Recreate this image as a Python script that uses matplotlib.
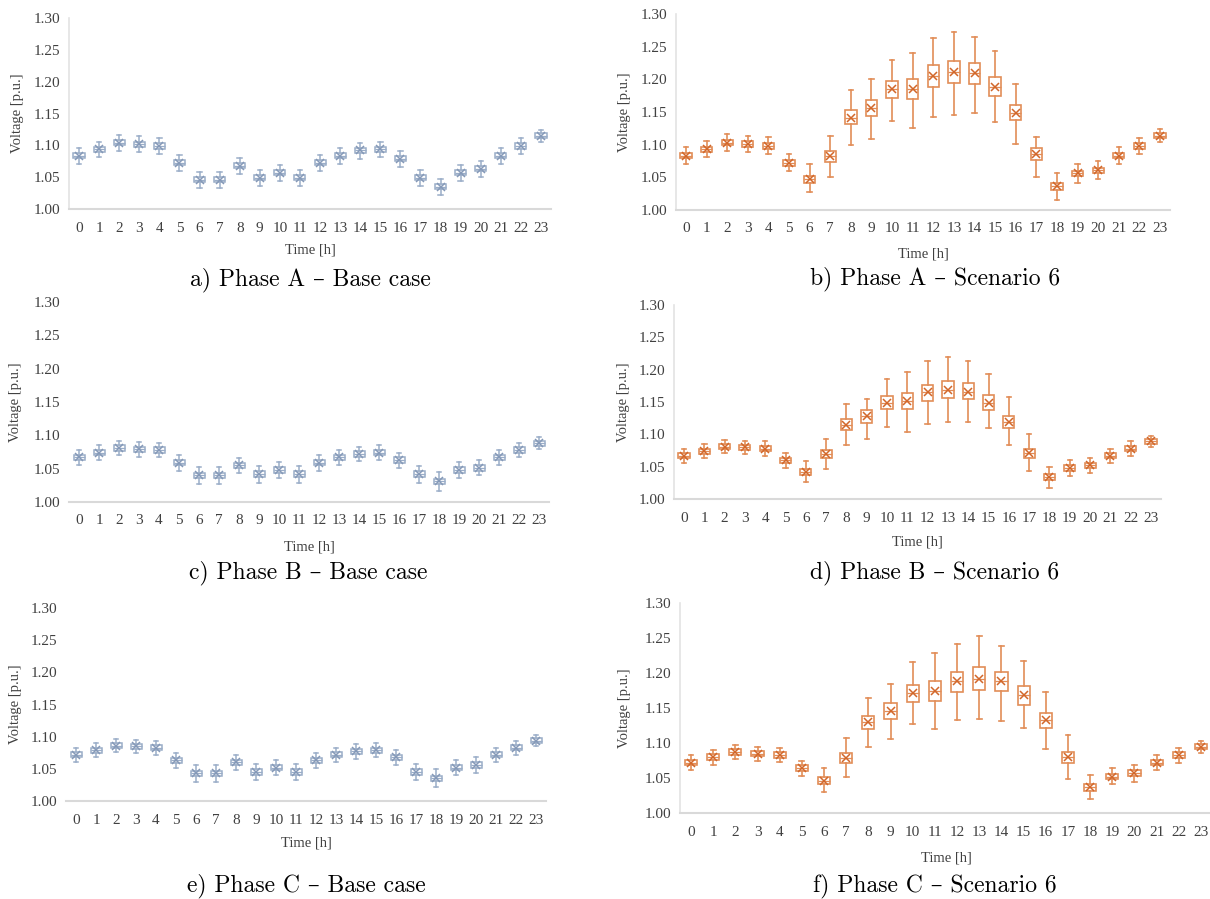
import matplotlib
matplotlib.use("Agg")
import matplotlib.pyplot as plt

plt.rcParams['font.family'] = ['Liberation Serif', 'DejaVu Serif']

hours = list(range(24))
yticks = [1.00, 1.05, 1.10, 1.15, 1.20, 1.25, 1.30]

# a) Phase A - Base case
a_mean = [1.084, 1.094, 1.104, 1.102, 1.099, 1.073, 1.046, 1.046, 1.068, 1.049, 1.057, 1.049,
          1.073, 1.084, 1.092, 1.094, 1.079, 1.049, 1.035, 1.057, 1.063, 1.084, 1.099, 1.115]
a_q1 = [1.080, 1.090, 1.100, 1.098, 1.095, 1.069, 1.042, 1.042, 1.064, 1.045, 1.053, 1.045,
        1.069, 1.080, 1.088, 1.090, 1.075, 1.045, 1.031, 1.053, 1.059, 1.080, 1.095, 1.111]
a_q3 = [1.088, 1.098, 1.108, 1.106, 1.103, 1.077, 1.050, 1.050, 1.072, 1.053, 1.061, 1.053,
        1.077, 1.088, 1.096, 1.098, 1.083, 1.053, 1.039, 1.061, 1.067, 1.088, 1.103, 1.119]
a_lo = [1.071, 1.081, 1.091, 1.089, 1.086, 1.060, 1.033, 1.033, 1.055, 1.036, 1.044, 1.036,
        1.060, 1.071, 1.079, 1.081, 1.066, 1.036, 1.022, 1.044, 1.050, 1.071, 1.086, 1.105]
a_hi = [1.096, 1.106, 1.116, 1.114, 1.111, 1.085, 1.058, 1.058, 1.080, 1.061, 1.069, 1.061,
        1.085, 1.096, 1.104, 1.106, 1.091, 1.061, 1.047, 1.069, 1.075, 1.096, 1.111, 1.124]

# b) Phase A - Scenario 6
b_mean = [1.083, 1.093, 1.103, 1.101, 1.098, 1.072, 1.047, 1.083, 1.141, 1.156, 1.185, 1.185,
          1.205, 1.211, 1.209, 1.188, 1.148, 1.085, 1.037, 1.056, 1.061, 1.083, 1.098, 1.114]
b_q1 = [1.079, 1.089, 1.099, 1.097, 1.094, 1.068, 1.041, 1.074, 1.131, 1.144, 1.171, 1.170,
        1.189, 1.194, 1.193, 1.175, 1.137, 1.076, 1.031, 1.052, 1.057, 1.079, 1.094, 1.110]
b_q3 = [1.087, 1.097, 1.107, 1.105, 1.102, 1.076, 1.052, 1.091, 1.153, 1.168, 1.197, 1.201,
        1.222, 1.228, 1.225, 1.203, 1.160, 1.095, 1.042, 1.060, 1.065, 1.087, 1.102, 1.118]
b_lo = [1.071, 1.081, 1.091, 1.089, 1.086, 1.060, 1.027, 1.051, 1.100, 1.109, 1.136, 1.126,
        1.142, 1.145, 1.148, 1.134, 1.101, 1.051, 1.015, 1.042, 1.048, 1.071, 1.086, 1.104]
b_hi = [1.096, 1.106, 1.116, 1.114, 1.111, 1.085, 1.070, 1.113, 1.183, 1.200, 1.229, 1.240,
        1.264, 1.272, 1.265, 1.243, 1.193, 1.112, 1.056, 1.070, 1.075, 1.096, 1.110, 1.124]

# c) Phase B - Base case
c_mean = [1.067, 1.074, 1.081, 1.079, 1.078, 1.059, 1.040, 1.040, 1.055, 1.042, 1.048, 1.042,
          1.059, 1.067, 1.072, 1.074, 1.063, 1.042, 1.031, 1.048, 1.051, 1.067, 1.078, 1.088]
c_q1 = [1.063, 1.070, 1.077, 1.075, 1.074, 1.055, 1.036, 1.036, 1.051, 1.038, 1.044, 1.038,
        1.055, 1.063, 1.068, 1.070, 1.059, 1.038, 1.027, 1.044, 1.047, 1.063, 1.074, 1.084]
c_q3 = [1.071, 1.078, 1.085, 1.083, 1.082, 1.063, 1.044, 1.044, 1.059, 1.046, 1.052, 1.046,
        1.063, 1.071, 1.076, 1.078, 1.067, 1.046, 1.035, 1.052, 1.055, 1.071, 1.082, 1.092]
c_lo = [1.056, 1.063, 1.070, 1.068, 1.067, 1.047, 1.027, 1.027, 1.043, 1.029, 1.036, 1.029,
        1.047, 1.056, 1.061, 1.063, 1.051, 1.029, 1.017, 1.036, 1.040, 1.056, 1.067, 1.080]
c_hi = [1.078, 1.085, 1.091, 1.090, 1.089, 1.071, 1.052, 1.052, 1.066, 1.054, 1.060, 1.054,
        1.071, 1.078, 1.083, 1.085, 1.074, 1.054, 1.045, 1.060, 1.063, 1.078, 1.089, 1.097]

# d) Phase B - Scenario 6
d_mean = [1.067, 1.074, 1.081, 1.080, 1.078, 1.060, 1.042, 1.070, 1.115, 1.128, 1.149, 1.151,
          1.165, 1.169, 1.166, 1.149, 1.119, 1.071, 1.034, 1.048, 1.052, 1.067, 1.078, 1.089]
d_q1 = [1.063, 1.070, 1.077, 1.076, 1.074, 1.056, 1.037, 1.063, 1.107, 1.118, 1.139, 1.139,
        1.151, 1.156, 1.154, 1.138, 1.110, 1.064, 1.029, 1.044, 1.048, 1.063, 1.074, 1.085]
d_q3 = [1.071, 1.078, 1.085, 1.084, 1.082, 1.064, 1.046, 1.076, 1.123, 1.137, 1.160, 1.164,
        1.177, 1.183, 1.179, 1.161, 1.128, 1.078, 1.038, 1.052, 1.056, 1.071, 1.082, 1.093]
d_lo = [1.056, 1.063, 1.071, 1.069, 1.067, 1.048, 1.026, 1.047, 1.083, 1.093, 1.111, 1.103,
        1.116, 1.119, 1.119, 1.110, 1.083, 1.043, 1.017, 1.036, 1.040, 1.056, 1.067, 1.080]
d_hi = [1.078, 1.085, 1.091, 1.090, 1.089, 1.071, 1.059, 1.093, 1.147, 1.155, 1.185, 1.196,
        1.214, 1.219, 1.214, 1.194, 1.158, 1.100, 1.049, 1.061, 1.064, 1.078, 1.089, 1.097]

# e) Phase C - Base case
e_mean = [1.072, 1.079, 1.086, 1.085, 1.083, 1.063, 1.043, 1.043, 1.060, 1.045, 1.052, 1.045,
          1.063, 1.072, 1.077, 1.079, 1.068, 1.045, 1.035, 1.052, 1.056, 1.072, 1.083, 1.094]
e_q1 = [1.068, 1.075, 1.082, 1.081, 1.079, 1.059, 1.039, 1.039, 1.056, 1.041, 1.048, 1.041,
        1.059, 1.068, 1.073, 1.075, 1.064, 1.041, 1.031, 1.048, 1.052, 1.068, 1.079, 1.090]
e_q3 = [1.076, 1.083, 1.090, 1.089, 1.087, 1.067, 1.047, 1.047, 1.064, 1.049, 1.056, 1.049,
        1.067, 1.076, 1.081, 1.083, 1.072, 1.049, 1.039, 1.056, 1.060, 1.076, 1.087, 1.098]
e_lo = [1.061, 1.068, 1.076, 1.074, 1.072, 1.052, 1.030, 1.030, 1.048, 1.033, 1.040, 1.033,
        1.052, 1.061, 1.066, 1.068, 1.056, 1.033, 1.021, 1.040, 1.044, 1.061, 1.072, 1.085]
e_hi = [1.083, 1.090, 1.096, 1.095, 1.093, 1.075, 1.056, 1.056, 1.071, 1.058, 1.064, 1.058,
        1.075, 1.083, 1.088, 1.090, 1.079, 1.058, 1.049, 1.064, 1.068, 1.083, 1.093, 1.103]

# f) Phase C - Scenario 6
f_mean = [1.072, 1.080, 1.087, 1.085, 1.083, 1.064, 1.046, 1.079, 1.130, 1.146, 1.171, 1.174,
          1.188, 1.191, 1.189, 1.168, 1.133, 1.080, 1.037, 1.052, 1.057, 1.072, 1.083, 1.095]
f_q1 = [1.068, 1.076, 1.083, 1.081, 1.079, 1.060, 1.041, 1.071, 1.120, 1.135, 1.159, 1.160,
        1.173, 1.176, 1.174, 1.155, 1.122, 1.071, 1.032, 1.048, 1.053, 1.068, 1.079, 1.091]
f_q3 = [1.076, 1.084, 1.091, 1.089, 1.087, 1.068, 1.051, 1.086, 1.139, 1.157, 1.183, 1.188,
        1.202, 1.208, 1.202, 1.181, 1.143, 1.087, 1.041, 1.056, 1.061, 1.076, 1.087, 1.099]
f_lo = [1.061, 1.069, 1.077, 1.075, 1.073, 1.053, 1.030, 1.052, 1.095, 1.106, 1.127, 1.120,
        1.133, 1.134, 1.132, 1.121, 1.092, 1.048, 1.020, 1.041, 1.045, 1.061, 1.072, 1.086]
f_hi = [1.083, 1.090, 1.097, 1.095, 1.093, 1.075, 1.064, 1.107, 1.165, 1.184, 1.216, 1.228,
        1.242, 1.253, 1.239, 1.217, 1.173, 1.112, 1.055, 1.064, 1.068, 1.083, 1.093, 1.103]

captions = ['a) Phase A – Base case', 'b) Phase A – Scenario 6',
            'c) Phase B – Base case', 'd) Phase B – Scenario 6',
            'e) Phase C – Base case', 'f) Phase C – Scenario 6']

BLUE = '#9AADC8'
BLUE_DARK = '#8599B8'
ORANGE = '#E28D58'
ORANGE_DARK = '#D2672A'

W, H = 1210, 899

# panel layout in pixels: x of hour 0, x of hour 23, y of 1.30, y of 1.00,
# y of "Time [h]", y of caption, x of ylabel, x of caption centre, left spine shown
panels = [
    dict(data=(a_mean, a_q1, a_q3, a_lo, a_hi), c=BLUE, cd=BLUE_DARK, lw=1.1,
         x0=79, x23=541, ytop=18, ybot=209, ty=250, cy=280, yl=18, cx=310, lsp=True),
    dict(data=(b_mean, b_q1, b_q3, b_lo, b_hi), c=ORANGE, cd=ORANGE_DARK, lw=1.2,
         x0=686, x23=1160, ytop=14, ybot=210, ty=254, cy=279, yl=625, cx=935, lsp=True),
    dict(data=(c_mean, c_q1, c_q3, c_lo, c_hi), c=BLUE, cd=BLUE_DARK, lw=1.1,
         x0=79, x23=539, ytop=302, ybot=502, ty=547, cy=573, yl=16, cx=308, lsp=False),
    dict(data=(d_mean, d_q1, d_q3, d_lo, d_hi), c=ORANGE, cd=ORANGE_DARK, lw=1.2,
         x0=684, x23=1151, ytop=305, ybot=499, ty=542, cy=573, yl=623, cx=935, lsp=True),
    dict(data=(e_mean, e_q1, e_q3, e_lo, e_hi), c=BLUE, cd=BLUE_DARK, lw=1.1,
         x0=76, x23=536, ytop=608, ybot=801, ty=843, cy=886, yl=16, cx=306, lsp=False),
    dict(data=(f_mean, f_q1, f_q3, f_lo, f_hi), c=ORANGE, cd=ORANGE_DARK, lw=1.2,
         x0=691, x23=1201, ytop=603, ybot=813, ty=858, cy=886, yl=625, cx=935, lsp=True),
]

fig = plt.figure(figsize=(W / 100, H / 100), dpi=100)

for p, cap in zip(panels, captions):
    sp = (p['x23'] - p['x0']) / 23
    left = p['x0'] - 0.5 * sp
    right = p['x23'] + 0.5 * sp
    ax = fig.add_axes([left / W, 1 - p['ybot'] / H, (right - left) / W, (p['ybot'] - p['ytop']) / H])

    mean, q1, q3, lo, hi = p['data']
    stats = [dict(med=m, mean=m, q1=a, q3=b, whislo=l, whishi=h, fliers=[])
             for m, a, b, l, h in zip(mean, q1, q3, lo, hi)]
    ax.bxp(stats, positions=hours, widths=0.55, showmeans=True, patch_artist=True,
           showfliers=False, capwidths=0.22,
           boxprops=dict(facecolor='#FFFFFF', edgecolor=p['c'], linewidth=p['lw']),
           whiskerprops=dict(color=p['c'], linewidth=p['lw']),
           capprops=dict(color=p['c'], linewidth=p['lw']),
           medianprops=dict(color=p['c'], linewidth=0.9),
           meanprops=dict(marker='x', markeredgecolor=p['cd'], markersize=6, markeredgewidth=1.1))

    ax.set_xlim(-0.5, 23.5)
    ax.set_ylim(1.0, 1.3)
    ax.set_yticks(yticks)
    ax.set_yticklabels(['%.2f' % v for v in yticks])
    ax.set_xticks(hours)
    ax.set_xticklabels([str(h) for h in hours])
    ax.tick_params(length=0, labelsize=11, colors='#404040', pad=6)
    ax.tick_params(axis='x', pad=9)
    for s in ['top', 'right']:
        ax.spines[s].set_visible(False)
    ax.spines['bottom'].set_color('#D9D9D9')
    ax.spines['bottom'].set_linewidth(1.5)
    ax.spines['left'].set_color('#E3E3E3')
    ax.spines['left'].set_linewidth(1.2)
    ax.spines['left'].set_visible(p['lsp'])
    ax.set_facecolor('none')

    mid = (p['x0'] + p['x23']) / 2
    fig.text(mid / W, 1 - p['ty'] / H, 'Time [h]', ha='center', va='center',
             fontsize=10.5, color='#404040')
    fig.text(p['yl'] / W, 1 - (p['ytop'] + p['ybot']) / 2 / H, 'Voltage [p.u.]',
             rotation=90, ha='center', va='center', fontsize=10.5, color='#404040')
    fig.text(p['cx'] / W, 1 - p['cy'] / H, cap, ha='center', va='center',
             fontsize=17, color='black', family=['cmr10', 'DejaVu Serif'])

fig.savefig('out.png', dpi=100, facecolor='white')
